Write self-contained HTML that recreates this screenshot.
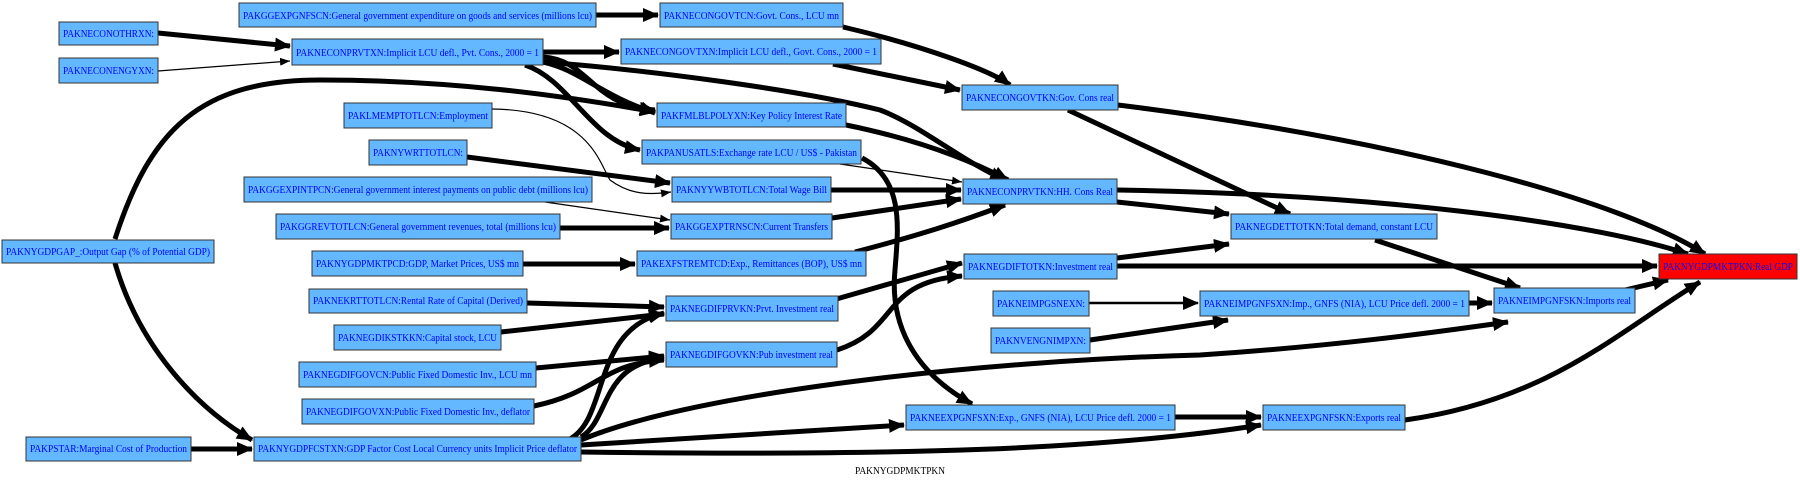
<!DOCTYPE html>
<html><head><meta charset="utf-8"><style>
html,body{margin:0;padding:0;background:#fff;width:1800px;height:481px;overflow:hidden}
svg text{font-family:"Liberation Serif",serif;font-size:10px;fill:#0000ff}
</style></head><body>
<svg width="1800" height="481" viewBox="0 0 1800 481" xmlns="http://www.w3.org/2000/svg">
<defs>
<marker id="a" markerUnits="userSpaceOnUse" markerWidth="16" markerHeight="14" refX="15" refY="7" orient="auto"><path d="M0,0 L16,7 L0,14 z" fill="#000"/></marker>
<marker id="t" markerUnits="userSpaceOnUse" markerWidth="10" markerHeight="8" refX="10" refY="4" orient="auto"><path d="M0,0 L10,4 L0,8 z" fill="#000"/></marker>
</defs>
<g fill="none" stroke="#000" stroke-width="5">
<path d="M158,33 L290,46" marker-end="url(#a)"/>
<path d="M596,15 L658,15" marker-end="url(#a)"/>
<path d="M543,52 L619,52" marker-end="url(#a)"/>
<path d="M543,57 C590,60 590,105 655,110" marker-end="url(#a)"/>
<path d="M543,62 C580,70 600,95 655,113" marker-end="url(#a)"/>
<path d="M525,65 C570,80 590,140 640,150" marker-end="url(#a)"/>
<path d="M543,62 C650,70 800,90 880,110 C920,125 960,160 1005,180" marker-end="url(#a)"/>
<path d="M115,239 C150,130 200,80 320,80 C450,80 560,95 655,112" marker-end="url(#a)"/>
<path d="M467,157 L670,183" marker-end="url(#a)"/>
<path d="M560,228 L669,228" marker-end="url(#a)"/>
<path d="M843,27 C920,45 990,70 1010,85" marker-end="url(#a)"/>
<path d="M833,64 L960,90" marker-end="url(#a)"/>
<path d="M846,125 C920,140 970,160 1008,180" marker-end="url(#a)"/>
<path d="M831,190 L961,190" marker-end="url(#a)"/>
<path d="M832,218 L961,199" marker-end="url(#a)"/>
<path d="M855,252 C920,235 960,222 1005,205" marker-end="url(#a)"/>
<path d="M862,158 C905,180 898,230 895,270 C890,320 910,370 972,404" marker-end="url(#a)"/>
<path d="M1117,190 C1400,195 1600,225 1688,254" marker-end="url(#a)"/>
<path d="M1117,202 L1229,214" marker-end="url(#a)"/>
<path d="M1068,110 L1290,214" marker-end="url(#a)"/>
<path d="M1118,105 C1400,140 1620,200 1705,254" marker-end="url(#a)"/>
<path d="M1375,240 L1520,288" marker-end="url(#a)"/>
<path d="M1117,266 L1657,266" marker-end="url(#a)"/>
<path d="M1117,258 L1229,244" marker-end="url(#a)"/>
<path d="M1090,340 L1228,320" marker-end="url(#a)"/>
<path d="M1469,303 L1492,303" marker-end="url(#a)"/>
<path d="M1625,290 L1668,280" marker-end="url(#a)"/>
<path d="M581,440 C700,390 1000,360 1200,355 C1350,345 1450,330 1508,322" marker-end="url(#a)"/>
<path d="M1405,420 C1550,400 1620,330 1700,282" marker-end="url(#a)"/>
<path d="M1175,417 L1261,417" marker-end="url(#a)"/>
<path d="M581,445 L904,425" marker-end="url(#a)"/>
<path d="M581,452 C900,456 1100,450 1261,425" marker-end="url(#a)"/>
<path d="M568,440 C610,420 590,330 664,313" marker-end="url(#a)"/>
<path d="M581,437 C610,420 600,365 664,358" marker-end="url(#a)"/>
<path d="M115,263 C140,350 200,410 252,440" marker-end="url(#a)"/>
<path d="M191,449 L252,449" marker-end="url(#a)"/>
<path d="M523,264 L635,264" marker-end="url(#a)"/>
<path d="M527,303 L664,307" marker-end="url(#a)"/>
<path d="M501,332 L664,314" marker-end="url(#a)"/>
<path d="M536,368 L664,356" marker-end="url(#a)"/>
<path d="M534,406 C600,392 600,364 664,360" marker-end="url(#a)"/>
<path d="M833,300 L962,263" marker-end="url(#a)"/>
<path d="M837,350 C900,330 880,282 962,276" marker-end="url(#a)"/>
</g>
<g fill="none" stroke="#000" stroke-width="1.2">
<path d="M158,71 L290,61" marker-end="url(#t)"/>
<path d="M492,109 C590,110 600,165 610,180 C630,195 650,195 671,192" marker-end="url(#t)"/>
<path d="M545,202 L670,220" marker-end="url(#t)"/>
<path d="M840,164 L962,182" marker-end="url(#t)"/>
</g>
<path d="M1089,303 L1198,303" fill="none" stroke="#000" stroke-width="2.5" marker-end="url(#a)"/>
<g stroke="#333" stroke-width="1" fill="#63b8ff">
<rect x="239" y="3" width="357" height="24"/>
<rect x="59" y="22" width="99" height="23"/>
<rect x="292" y="39" width="251" height="26"/>
<rect x="59" y="58" width="99" height="25"/>
<rect x="344" y="103" width="148" height="25"/>
<rect x="369" y="140" width="98" height="25"/>
<rect x="244" y="177" width="348" height="25"/>
<rect x="276" y="214" width="284" height="25"/>
<rect x="660" y="3" width="183" height="24"/>
<rect x="621" y="39" width="260" height="25"/>
<rect x="962" y="85" width="156" height="25"/>
<rect x="657" y="103" width="189" height="24"/>
<rect x="642" y="140" width="219" height="24"/>
<rect x="672" y="177" width="159" height="25"/>
<rect x="963" y="179" width="154" height="25"/>
<rect x="671" y="214" width="161" height="25"/>
<rect x="1231" y="214" width="206" height="25"/>
<rect x="2" y="240" width="212" height="23"/>
<rect x="312" y="251" width="211" height="25"/>
<rect x="309" y="289" width="218" height="24"/>
<rect x="334" y="325" width="167" height="25"/>
<rect x="299" y="362" width="237" height="25"/>
<rect x="302" y="399" width="232" height="25"/>
<rect x="26" y="437" width="165" height="24"/>
<rect x="254" y="437" width="327" height="24"/>
<rect x="637" y="251" width="229" height="25"/>
<rect x="666" y="296" width="172" height="25"/>
<rect x="666" y="342" width="171" height="25"/>
<rect x="964" y="254" width="153" height="25"/>
<rect x="993" y="291" width="96" height="25"/>
<rect x="991" y="328" width="99" height="25"/>
<rect x="906" y="405" width="269" height="25"/>
<rect x="1200" y="291" width="269" height="25"/>
<rect x="1494" y="288" width="141" height="25"/>
<rect x="1263" y="405" width="142" height="25"/>
<rect x="1659" y="254" width="138" height="25" fill="#ff0000"/>
</g>
<g lengthAdjust="spacingAndGlyphs">
<text x="243" y="19" textLength="349" lengthAdjust="spacingAndGlyphs">PAKGGEXPGNFSCN:General government expenditure on goods and services (millions lcu)</text>
<text x="63" y="37" textLength="91" lengthAdjust="spacingAndGlyphs">PAKNECONOTHRXN:</text>
<text x="296" y="56" textLength="243" lengthAdjust="spacingAndGlyphs">PAKNECONPRVTXN:Implicit LCU defl., Pvt. Cons., 2000 = 1</text>
<text x="63" y="74" textLength="91" lengthAdjust="spacingAndGlyphs">PAKNECONENGYXN:</text>
<text x="348" y="119" textLength="140" lengthAdjust="spacingAndGlyphs">PAKLMEMPTOTLCN:Employment</text>
<text x="373" y="156" textLength="90" lengthAdjust="spacingAndGlyphs">PAKNYWRTTOTLCN:</text>
<text x="248" y="193" textLength="340" lengthAdjust="spacingAndGlyphs">PAKGGEXPINTPCN:General government interest payments on public debt (millions lcu)</text>
<text x="280" y="230" textLength="276" lengthAdjust="spacingAndGlyphs">PAKGGREVTOTLCN:General government revenues, total (millions lcu)</text>
<text x="664" y="19" textLength="175" lengthAdjust="spacingAndGlyphs">PAKNECONGOVTCN:Govt. Cons., LCU mn</text>
<text x="625" y="55" textLength="252" lengthAdjust="spacingAndGlyphs">PAKNECONGOVTXN:Implicit LCU defl., Govt. Cons., 2000 = 1</text>
<text x="966" y="101" textLength="148" lengthAdjust="spacingAndGlyphs">PAKNECONGOVTKN:Gov. Cons real</text>
<text x="661" y="119" textLength="181" lengthAdjust="spacingAndGlyphs">PAKFMLBLPOLYXN:Key Policy Interest Rate</text>
<text x="646" y="156" textLength="211" lengthAdjust="spacingAndGlyphs">PAKPANUSATLS:Exchange rate LCU / US$ - Pakistan</text>
<text x="676" y="193" textLength="151" lengthAdjust="spacingAndGlyphs">PAKNYYWBTOTLCN:Total Wage Bill</text>
<text x="967" y="195" textLength="146" lengthAdjust="spacingAndGlyphs">PAKNECONPRVTKN:HH. Cons Real</text>
<text x="675" y="230" textLength="153" lengthAdjust="spacingAndGlyphs">PAKGGEXPTRNSCN:Current Transfers</text>
<text x="1235" y="230" textLength="198" lengthAdjust="spacingAndGlyphs">PAKNEGDETTOTKN:Total demand, constant LCU</text>
<text x="6" y="255" textLength="204" lengthAdjust="spacingAndGlyphs">PAKNYGDPGAP_:Output Gap (% of Potential GDP)</text>
<text x="316" y="267" textLength="203" lengthAdjust="spacingAndGlyphs">PAKNYGDPMKTPCD:GDP, Market Prices, US$ mn</text>
<text x="313" y="304" textLength="210" lengthAdjust="spacingAndGlyphs">PAKNEKRTTOTLCN:Rental Rate of Capital (Derived)</text>
<text x="338" y="341" textLength="159" lengthAdjust="spacingAndGlyphs">PAKNEGDIKSTKKN:Capital stock, LCU</text>
<text x="303" y="378" textLength="229" lengthAdjust="spacingAndGlyphs">PAKNEGDIFGOVCN:Public Fixed Domestic Inv., LCU mn</text>
<text x="306" y="415" textLength="224" lengthAdjust="spacingAndGlyphs">PAKNEGDIFGOVXN:Public Fixed Domestic Inv., deflator</text>
<text x="30" y="452" textLength="157" lengthAdjust="spacingAndGlyphs">PAKPSTAR:Marginal Cost of Production</text>
<text x="258" y="452" textLength="319" lengthAdjust="spacingAndGlyphs">PAKNYGDPFCSTXN:GDP Factor Cost Local Currency units Implicit Price deflator</text>
<text x="641" y="267" textLength="221" lengthAdjust="spacingAndGlyphs">PAKEXFSTREMTCD:Exp., Remittances (BOP), US$ mn</text>
<text x="670" y="312" textLength="164" lengthAdjust="spacingAndGlyphs">PAKNEGDIFPRVKN:Prvt. Investment real</text>
<text x="670" y="358" textLength="163" lengthAdjust="spacingAndGlyphs">PAKNEGDIFGOVKN:Pub investment real</text>
<text x="968" y="270" textLength="145" lengthAdjust="spacingAndGlyphs">PAKNEGDIFTOTKN:Investment real</text>
<text x="997" y="307" textLength="88" lengthAdjust="spacingAndGlyphs">PAKNEIMPGSNEXN:</text>
<text x="995" y="344" textLength="91" lengthAdjust="spacingAndGlyphs">PAKNVENGNIMPXN:</text>
<text x="910" y="421" textLength="261" lengthAdjust="spacingAndGlyphs">PAKNEEXPGNFSXN:Exp., GNFS (NIA), LCU Price defl. 2000 = 1</text>
<text x="1204" y="307" textLength="261" lengthAdjust="spacingAndGlyphs">PAKNEIMPGNFSXN:Imp., GNFS (NIA), LCU Price defl. 2000 = 1</text>
<text x="1498" y="304" textLength="133" lengthAdjust="spacingAndGlyphs">PAKNEIMPGNFSKN:Imports real</text>
<text x="1267" y="421" textLength="134" lengthAdjust="spacingAndGlyphs">PAKNEEXPGNFSKN:Exports real</text>
<text x="1663" y="270" textLength="130" lengthAdjust="spacingAndGlyphs">PAKNYGDPMKTPKN:Real GDP</text>
<text x="855" y="474" textLength="90" lengthAdjust="spacingAndGlyphs" style="fill:#000">PAKNYGDPMKTPKN</text>
</g>
</svg>
</body></html>
